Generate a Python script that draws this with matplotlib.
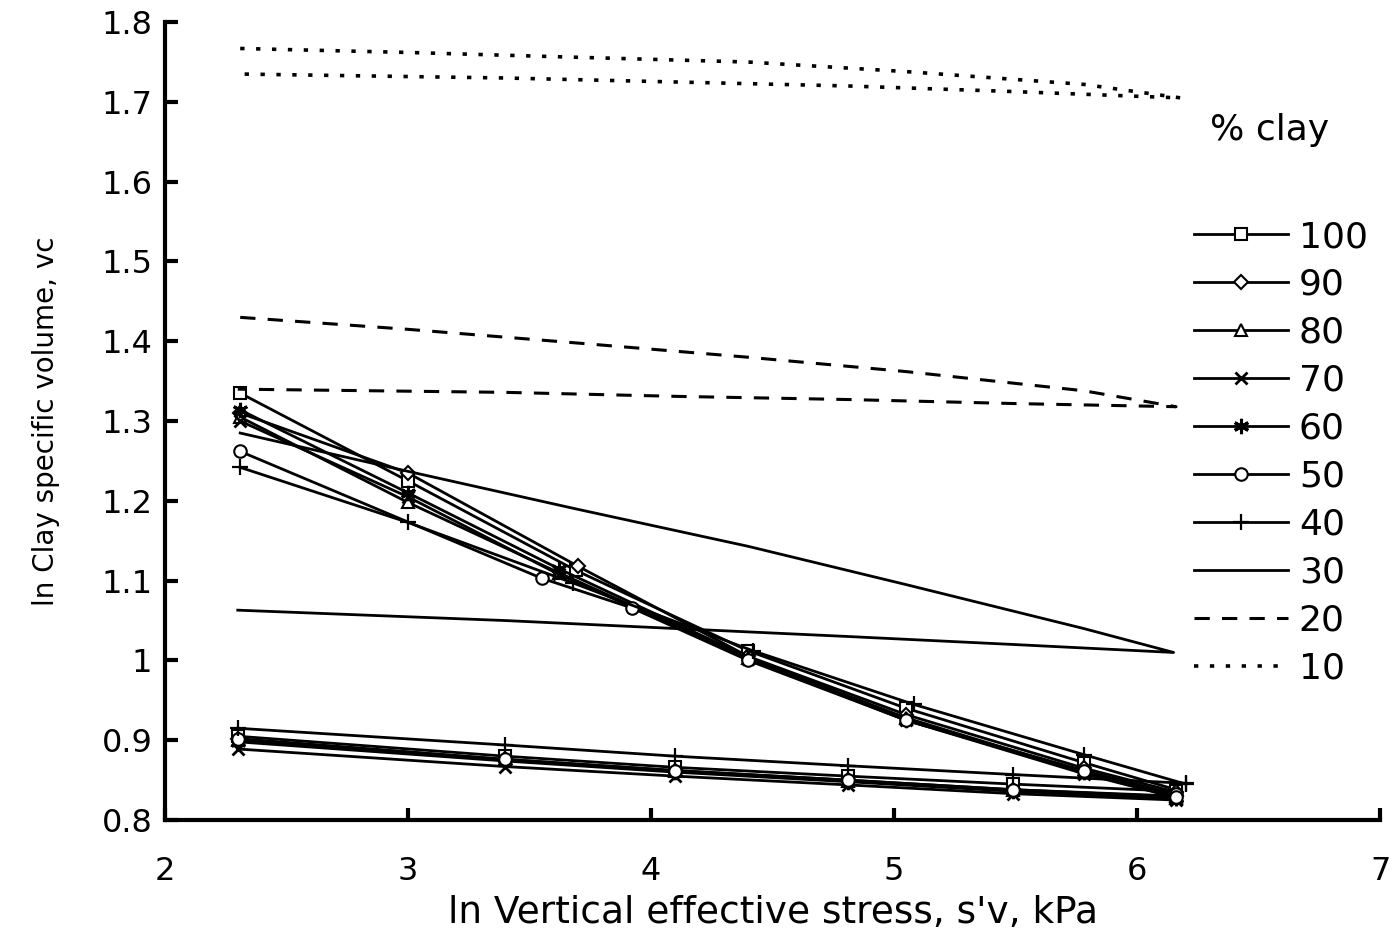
import matplotlib
matplotlib.use("Agg")
import matplotlib.pyplot as plt

plt.rcParams['font.family'] = ['DejaVu Sans']

# Clay percentages (legend order)
clay_labels = ["100", "90", "80", "70", "60", "50", "40", "30", "20", "10"]

# Loading paths (ln stress, ln specific volume)
load_x = {
    "100": [2.31, 3.00, 3.69, 4.40, 5.05, 5.78, 6.16],
    "90":  [2.31, 3.00, 3.70, 4.40, 5.05, 5.78, 6.16],
    "80":  [2.31, 3.00, 3.62, 4.40, 5.05, 5.78, 6.16],
    "70":  [2.31, 3.00, 3.62, 4.40, 5.05, 5.78, 6.16],
    "60":  [2.31, 3.00, 3.62, 4.40, 5.05, 5.78, 6.16],
    "50":  [2.31, 3.55, 3.92, 4.40, 5.05, 5.78, 6.16],
    "40":  [2.31, 3.00, 3.68, 4.42, 5.08, 5.78, 6.20],
    "30":  [2.31, 3.00, 3.69, 4.40, 5.05, 5.78, 6.15],
    "20":  [2.31, 3.00, 3.69, 4.40, 5.05, 5.78, 6.16],
    "10":  [2.31, 3.00, 3.69, 4.40, 5.05, 5.78, 6.18],
}
load_y = {
    "100": [1.335, 1.225, 1.113, 1.012, 0.940, 0.872, 0.838],
    "90":  [1.310, 1.235, 1.118, 1.005, 0.932, 0.865, 0.835],
    "80":  [1.305, 1.198, 1.110, 1.003, 0.928, 0.860, 0.830],
    "70":  [1.300, 1.205, 1.108, 1.002, 0.925, 0.858, 0.828],
    "60":  [1.314, 1.210, 1.115, 1.004, 0.925, 0.860, 0.828],
    "50":  [1.262, 1.103, 1.066, 1.000, 0.925, 0.862, 0.832],
    "40":  [1.242, 1.173, 1.097, 1.012, 0.945, 0.882, 0.845],
    "30":  [1.285, 1.237, 1.190, 1.143, 1.095, 1.040, 1.010],
    "20":  [1.430, 1.415, 1.398, 1.380, 1.362, 1.338, 1.318],
    "10":  [1.767, 1.762, 1.756, 1.750, 1.738, 1.722, 1.705],
}

# Unloading paths
unload_x = {
    "100": [6.16, 5.49, 4.81, 4.10, 3.40, 2.30],
    "90":  [6.16, 5.49, 4.81, 4.10, 3.40, 2.30],
    "80":  [6.16, 5.49, 4.81, 4.10, 3.40, 2.30],
    "70":  [6.16, 5.49, 4.81, 4.10, 3.40, 2.30],
    "60":  [6.16, 5.49, 4.81, 4.10, 3.40, 2.30],
    "50":  [6.16, 5.49, 4.81, 4.10, 3.40, 2.30],
    "40":  [6.20, 5.49, 4.81, 4.10, 3.40, 2.30],
    "30":  [6.15, 5.49, 4.81, 4.10, 3.40, 2.30],
    "20":  [6.16, 5.49, 4.81, 4.10, 3.40, 2.30],
    "10":  [6.18, 5.49, 4.81, 4.10, 3.40, 2.30],
}
unload_y = {
    "100": [0.836, 0.845, 0.855, 0.866, 0.880, 0.905],
    "90":  [0.830, 0.838, 0.850, 0.862, 0.876, 0.901],
    "80":  [0.828, 0.837, 0.849, 0.861, 0.875, 0.900],
    "70":  [0.825, 0.833, 0.844, 0.855, 0.867, 0.889],
    "60":  [0.827, 0.836, 0.848, 0.860, 0.874, 0.898],
    "50":  [0.829, 0.838, 0.850, 0.862, 0.876, 0.902],
    "40":  [0.846, 0.857, 0.868, 0.880, 0.894, 0.915],
    "30":  [1.010, 1.020, 1.030, 1.040, 1.050, 1.063],
    "20":  [1.318, 1.322, 1.327, 1.331, 1.336, 1.340],
    "10":  [1.705, 1.713, 1.720, 1.725, 1.730, 1.735],
}

x_ticks = [2, 3, 4, 5, 6, 7]
y_ticks = [0.8, 0.9, 1.0, 1.1, 1.2, 1.3, 1.4, 1.5, 1.6, 1.7, 1.8]
y_tick_labels = ["0.8", "0.9", "1", "1.1", "1.2", "1.3", "1.4", "1.5", "1.6", "1.7", "1.8"]

styles = {
    "100": dict(marker='s', ls='-', mfc='white', ms=9),
    "90":  dict(marker='D', ls='-', mfc='white', ms=7),
    "80":  dict(marker='^', ls='-', mfc='white', ms=9),
    "70":  dict(marker='x', ls='-', mfc='white', ms=9, mew=2),
    "60":  dict(marker=(6, 2, 0), ls='-', mfc='black', ms=11, mew=2.2),
    "50":  dict(marker='o', ls='-', mfc='white', ms=9),
    "40":  dict(marker='+', ls='-', mfc='white', ms=12, mew=1.6),
    "30":  dict(marker='', ls='-'),
    "20":  dict(marker='', ls=(0, (5, 4)), lw=2.2),
    "10":  dict(marker='', ls=(0, (1.2, 3.2)), lw=2.6),
}

fig = plt.figure(figsize=(13.97, 9.42), dpi=100)
ax = fig.add_axes([0.118, 0.1295, 0.87, 0.847])

for lab in clay_labels:
    st = dict(color='black', lw=2.0, mec='black', mew=1.5)
    st.update(styles[lab])
    xs = load_x[lab] + unload_x[lab]
    ys = load_y[lab] + unload_y[lab]
    ax.plot(xs, ys, label=lab, **st)

ax.set_xlim(2, 7)
ax.set_ylim(0.8, 1.8)
ax.set_xticks(x_ticks)
ax.set_yticks(y_ticks)
ax.set_yticklabels(y_tick_labels)
for s in ['top', 'right']:
    ax.spines[s].set_visible(False)
for s in ['left', 'bottom']:
    ax.spines[s].set_linewidth(3)
ax.tick_params(direction='in', length=9, width=3, labelsize=23)
ax.tick_params(axis='y', pad=9)
ax.tick_params(axis='x', pad=26)

ax.set_xlabel("ln Vertical effective stress, s'v, kPa", fontsize=27, labelpad=6)
ax.set_ylabel("ln Clay specific volume, vc", fontsize=20, labelpad=30)

leg = ax.legend(loc='upper left', bbox_to_anchor=(0.835, 0.770), frameon=False,
                fontsize=26, handlelength=2.6, handletextpad=0.3,
                labelspacing=0.385, numpoints=1, borderaxespad=0)
ax.text(0.909, 0.865, "% clay", transform=ax.transAxes, fontsize=26,
        ha='center', va='center')

fig.savefig("out.png", dpi=100)
